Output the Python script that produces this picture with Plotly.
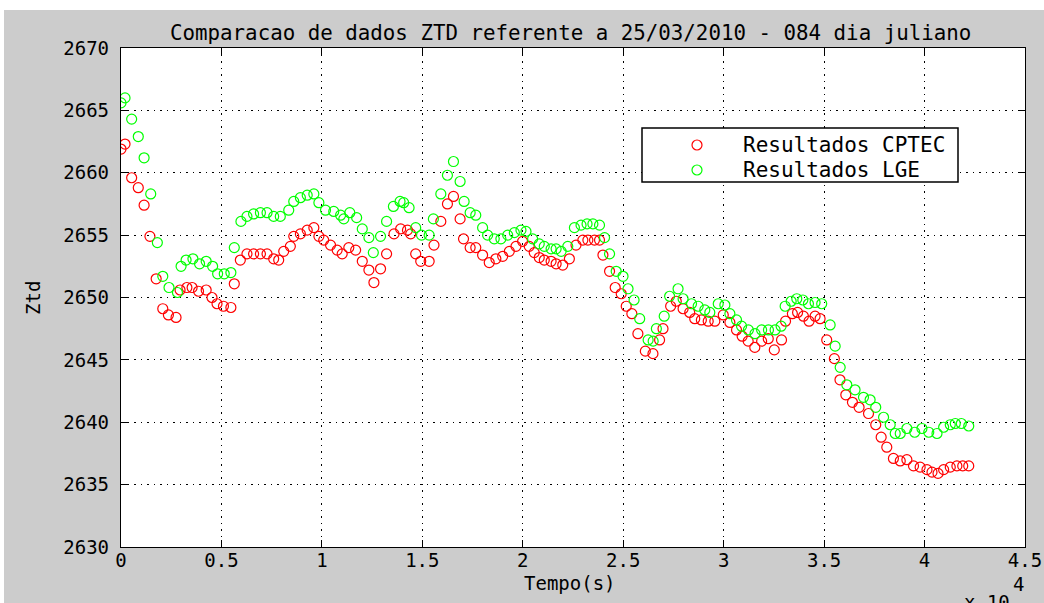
import plotly.graph_objects as go

# ---- data ----
t_cptec = [0, 200, 530, 860, 1150, 1440, 1750, 2080, 2360, 2740, 2940, 3280, 3540, 3860, 4240, 4530,
           4780, 5100, 5470, 5640, 5940, 6270, 6600, 6940, 7270, 7600, 7850, 8100, 8430, 8600, 8930,
           9270, 9600, 9850, 10090, 10430, 10760, 11010, 11340, 11680, 12010, 12340, 12590, 12920,
           13220, 13590, 13920, 14260, 14420, 14670, 14920, 15340, 15580, 15920, 16250, 16550, 16880,
           17050, 17380, 17660, 18000, 18330, 18660, 19000, 19330, 19660, 19990, 20320, 20570, 20820,
           21070, 21410, 21660, 21990, 22320, 22650, 22990, 23240, 23570, 23820, 23990, 24320, 24600,
           24900, 25150, 25430, 25730, 26100, 26480, 26810, 26980, 27360, 27640, 27980, 28310, 28560,
           28890, 29230, 29560, 29980, 30310, 30640, 30920, 31220, 31550, 31890, 32220, 32520, 32880,
           33080, 33420, 33680, 33970, 34250, 34550, 34800, 35130, 35510, 35790, 36080, 36410, 36740,
           37210, 37570, 37840, 38120, 38450, 38790, 39120, 39450, 39780, 40120, 40370, 40670, 40950,
           41280, 41610, 41900, 42200]
ztd_cptec = [2661.9, 2662.3, 2659.6, 2658.8, 2657.4, 2654.9, 2651.5, 2649.1, 2648.6, 2648.4, 2650.6,
             2650.8, 2650.8, 2650.5, 2650.6, 2650.0, 2649.5, 2649.3, 2649.2, 2651.1, 2653.0, 2653.5,
             2653.5, 2653.5, 2653.5, 2653.1, 2653.0, 2653.7, 2654.1, 2654.9, 2655.1, 2655.4, 2655.6,
             2654.9, 2654.6, 2654.2, 2653.8, 2653.5, 2654.0, 2653.8, 2652.9, 2652.2, 2651.2, 2652.3,
             2653.5, 2655.1, 2655.5, 2655.4, 2655.1, 2653.5, 2652.9, 2652.9, 2654.2, 2656.1, 2657.5,
             2658.1, 2656.3, 2654.7, 2654.0, 2654.0, 2653.4, 2652.8, 2653.1, 2653.3, 2653.7, 2654.1,
             2654.5, 2654.1, 2653.6, 2653.2, 2653.0, 2652.9, 2652.7, 2652.6, 2653.1, 2654.2, 2654.6,
             2654.6, 2654.6, 2654.6, 2653.4, 2652.1, 2650.8, 2650.3, 2649.3, 2648.7, 2647.1, 2645.7,
             2645.5, 2646.6, 2647.5, 2649.3, 2649.7, 2649.1, 2648.8, 2648.3, 2648.2, 2648.1, 2648.1,
             2648.6, 2648.0, 2647.4, 2646.9, 2646.5, 2646.0, 2646.5, 2646.7, 2645.8, 2646.6, 2648.1,
             2648.7, 2648.8, 2648.5, 2648.1, 2648.5, 2648.3, 2646.6, 2645.1, 2643.4, 2642.2, 2641.6,
             2641.2, 2640.7, 2639.8, 2638.8, 2638.0, 2637.1, 2636.9, 2637.0, 2636.5, 2636.4, 2636.2,
             2636.0, 2635.9, 2636.2, 2636.4, 2636.5, 2636.5, 2636.5]

t_lge = [0, 200, 530, 860, 1150, 1480, 1810, 2080, 2390, 2810, 2990, 3240, 3580, 3910, 4240, 4560,
         4810, 5140, 5470, 5640, 5970, 6270, 6600, 6940, 7270, 7600, 7930, 8350, 8600, 8930, 9270,
         9600, 9850, 10180, 10590, 10930, 11090, 11390, 11730, 12010, 12340, 12560, 12920, 13220,
         13560, 13890, 14070, 14340, 14670, 14960, 15340, 15550, 15920, 16250, 16550, 16880, 17080,
         17380, 17660, 18000, 18250, 18580, 18910, 19250, 19580, 19910, 20160, 20490, 20820, 21070,
         21410, 21660, 21910, 22240, 22570, 22900, 23200, 23490, 23820, 24070, 24320, 24650, 24990,
         25240, 25540, 25820, 26240, 26490, 26650, 27040, 27310, 27730, 27980, 28400, 28730, 29060,
         29310, 29730, 30060, 30310, 30640, 30890, 31230, 31560, 31890, 32230, 32560, 32860, 33060,
         33360, 33640, 33940, 34220, 34550, 34880, 35300, 35550, 35800, 36130, 36540, 36960, 37290,
         37570, 37960, 38290, 38540, 38790, 39120, 39510, 39870, 40210, 40620, 40950, 41280, 41530,
         41830, 42200]
ztd_lge = [2665.6, 2666.0, 2664.3, 2662.9, 2661.2, 2658.3, 2654.4, 2651.7, 2650.8, 2650.4, 2652.5,
           2653.0, 2653.1, 2652.7, 2652.9, 2652.5, 2651.9, 2651.9, 2652.0, 2654.0, 2656.1, 2656.5,
           2656.7, 2656.8, 2656.8, 2656.5, 2656.5, 2657.0, 2657.7, 2658.0, 2658.2, 2658.3, 2657.6,
           2657.0, 2656.9, 2656.6, 2656.3, 2656.8, 2656.4, 2655.5, 2654.8, 2653.6, 2654.9, 2656.1,
           2657.3, 2657.7, 2657.6, 2657.2, 2655.6, 2655.0, 2655.0, 2656.3, 2658.3, 2659.8, 2660.9,
           2659.3, 2657.7, 2656.8, 2656.6, 2655.6, 2655.0, 2654.7, 2654.7, 2655.0, 2655.2, 2655.4,
           2655.3, 2654.7, 2654.3, 2654.1, 2653.9, 2653.9, 2653.7, 2654.1, 2655.6, 2655.8, 2655.9,
           2655.9, 2655.8, 2654.8, 2653.5, 2652.1, 2651.7, 2650.7, 2649.8, 2648.3, 2646.6, 2646.5,
           2647.5, 2648.5, 2650.1, 2650.7, 2649.9, 2649.5, 2649.3, 2649.0, 2648.8, 2649.5, 2649.4,
           2648.7, 2648.2, 2647.7, 2647.4, 2647.1, 2647.4, 2647.4, 2647.4, 2647.7, 2649.3, 2649.7,
           2649.9, 2649.8, 2649.5, 2649.6, 2649.5, 2647.8, 2646.1, 2644.4, 2643.0, 2642.6, 2642.0,
           2641.8, 2641.2, 2640.4, 2639.8, 2639.1, 2639.1, 2639.5, 2639.2, 2639.5, 2639.2, 2639.1,
           2639.6, 2639.8, 2639.9, 2639.9, 2639.7]

x_tickvals = [0, 5000, 10000, 15000, 20000, 25000, 30000, 35000, 40000, 45000]
x_ticktext = ["0", "0.5", "1", "1.5", "2", "2.5", "3", "3.5", "4", "4.5"]
y_tickvals = [2630, 2635, 2640, 2645, 2650, 2655, 2660, 2665, 2670]
y_ticktext = [str(v) for v in y_tickvals]

title_text = "Comparacao de dados ZTD referente a 25/03/2010 - 084 dia juliano"
series_names = ["Resultados CPTEC", "Resultados LGE"]
series_colors = ["#ff0000", "#00ff00"]

FONT = "DejaVu Sans Mono"
W, H = 1044, 603
L, R, T, B = 121, 19, 48, 56
pw, ph = W - L - R, H - T - B

def px_x(p):
    return (p - L) / pw

def px_y(p):
    return (H - B - p) / ph

fig = go.Figure()
for tt, vv, nm, col in [(t_cptec, ztd_cptec, series_names[0], series_colors[0]),
                        (t_lge, ztd_lge, series_names[1], series_colors[1])]:
    fig.add_trace(go.Scatter(x=tt, y=vv, mode="markers", name=nm, showlegend=False,
                             marker=dict(symbol="circle-open", size=10, color=col,
                                         line=dict(width=1.2, color=col))))

axis_common = dict(
    showline=True, linecolor="black", linewidth=1.3, mirror="allticks",
    ticks="inside", ticklen=7, tickcolor="black", tickwidth=1,
    showgrid=True, gridcolor="black", gridwidth=1.3, griddash="1.5px,5px",
    zeroline=False, automargin=False,
    tickfont=dict(family=FONT, size=19, color="black"),
)
fig.update_xaxes(range=[0, 45000], tickmode="array", tickvals=x_tickvals, ticktext=x_ticktext,
                 ticklabelstandoff=-4, **axis_common)
fig.update_yaxes(range=[2630, 2670], tickmode="array", tickvals=y_tickvals, ticktext=y_ticktext,
                 ticklabelstandoff=7, **axis_common)

# manual MATLAB-style legend box
leg_x0, leg_x1, leg_y0, leg_y1 = 642, 958, 128, 182
leg_rows = [145, 170]
shapes = [
    dict(type="rect", xref="paper", yref="paper", x0=-0.2, x1=1.1, y0=px_y(10), y1=px_y(-20),
         fillcolor="white", line=dict(width=0), layer="below"),
    dict(type="rect", xref="paper", yref="paper", x0=-0.2, x1=px_x(4), y0=-0.3, y1=1.2,
         fillcolor="white", line=dict(width=0), layer="below"),
    dict(type="rect", xref="paper", yref="paper", x0=px_x(leg_x0), x1=px_x(leg_x1),
         y0=px_y(leg_y1), y1=px_y(leg_y0), fillcolor="white",
         line=dict(color="black", width=1.5), layer="above"),
]
annotations = [
    dict(text=title_text, xref="paper", yref="paper", x=px_x(570.5), y=px_y(33), xanchor="center",
         yanchor="middle", showarrow=False, font=dict(family=FONT, size=20.8, color="black")),
    dict(text="Tempo(s)", xref="paper", yref="paper", x=px_x(570), y=px_y(583), xanchor="center",
         yanchor="middle", showarrow=False, font=dict(family=FONT, size=19, color="black")),
    dict(text="Ztd", xref="paper", yref="paper", x=px_x(33), y=px_y(298), xanchor="center",
         yanchor="middle", showarrow=False, textangle=-90,
         font=dict(family=FONT, size=19, color="black")),
    dict(text="4", xref="paper", yref="paper", x=px_x(1018), y=px_y(584), xanchor="center",
         yanchor="middle", showarrow=False, font=dict(family=FONT, size=19, color="black")),
    dict(text="x 10", xref="paper", yref="paper", x=px_x(987), y=px_y(602), xanchor="center",
         yanchor="middle", showarrow=False, font=dict(family=FONT, size=19, color="black")),
]
for row, nm, col in zip(leg_rows, series_names, series_colors):
    shapes.append(dict(type="circle", xref="paper", yref="paper", xsizemode="pixel",
                       ysizemode="pixel", xanchor=px_x(697), yanchor=px_y(row),
                       x0=-5, x1=5, y0=-5, y1=5, line=dict(color=col, width=1.2),
                       fillcolor="rgba(0,0,0,0)", layer="above"))
    annotations.append(dict(text=nm, xref="paper", yref="paper", x=px_x(741), y=px_y(row),
                            xanchor="left", yanchor="middle", showarrow=False,
                            font=dict(family=FONT, size=21, color="black")))

fig.update_layout(
    width=W, height=H, autosize=False,
    margin=dict(l=L, r=R, t=T, b=B),
    paper_bgcolor="#cccccc", plot_bgcolor="white",
    font=dict(family=FONT, color="black"),
    showlegend=False,
    shapes=shapes,
    annotations=annotations,
)

fig.write_html("out.html", config={"displayModeBar": False},
               post_script="document.body.style.margin='0';document.body.style.padding='0';"
                           "document.body.style.overflow='hidden';")
